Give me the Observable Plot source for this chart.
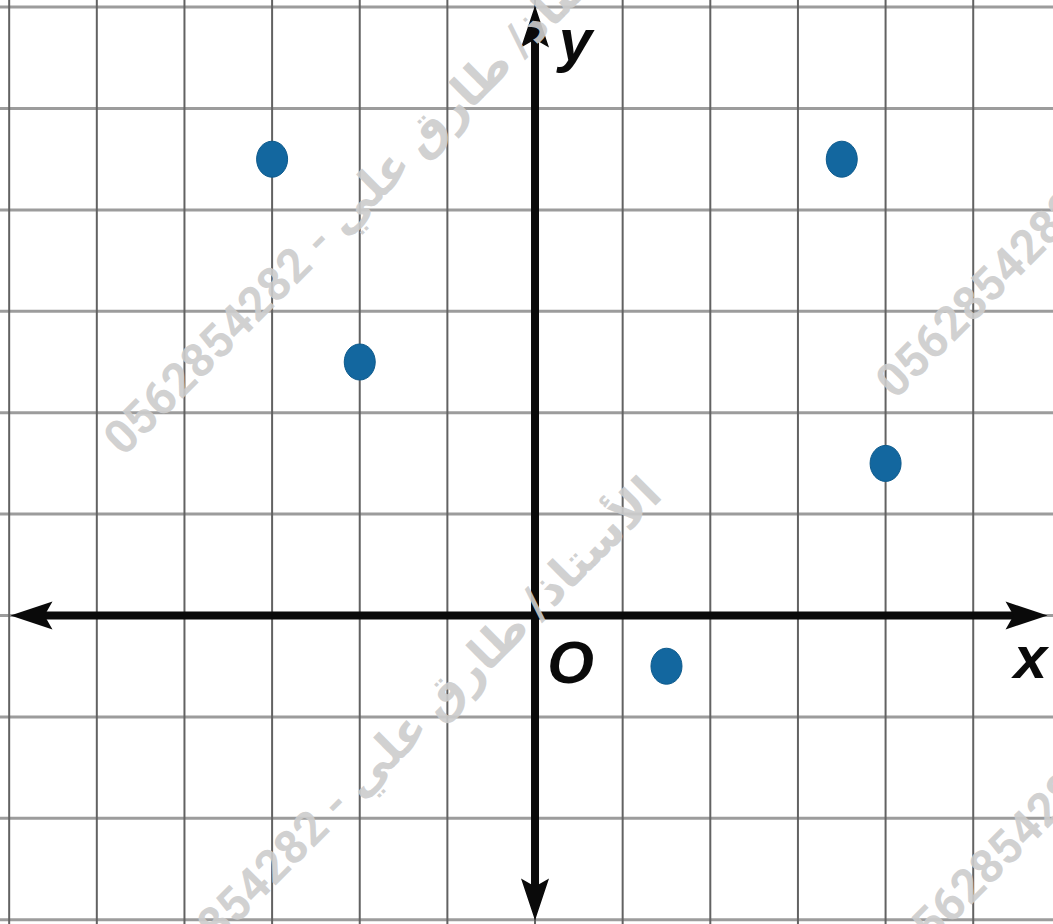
<!DOCTYPE html>
<html><head><meta charset="utf-8">
<script src="https://cdn.jsdelivr.net/npm/d3@7"></script>
<script src="https://cdn.jsdelivr.net/npm/@observablehq/plot@0.6"></script>
<style>html,body{margin:0;padding:0;background:#fff;overflow:hidden}</style>
</head><body><div id="chart"></div>
<script>
// Plotted points (grid units)
const pointX = [-3, -2, 3.5, 4, 1.5];
const pointY = [4.5, 2.5, 4.5, 1.5, -0.5];
// Grid lines (one per unit)
const gridX = [-6, -5, -4, -3, -2, -1, 0, 1, 2, 3, 4, 5];
const gridY = [-3, -2, -1, 0, 1, 2, 3, 4, 5, 6];
// Axis extents (arrow tips)
const xAxisEnds = [-5.985, 5.848];
const yAxisEnds = [-3.008, 6.016];
// Axis labels
const labelText = ["x", "y", "O"];
const labelX = [5.654, 0.46, 0.405];
const labelY = [-0.621, 5.47, -0.661];
// Watermark
const watermarkText = "0562854282 - الأستاذ/ طارق علي";
const watermarkX = [-4.695, -4.501, 4.113, 4.307];
const watermarkY = [1.558, -3.994, 2.120, -3.432];

const points = pointX.map((x, i) => ({x, y: pointY[i]}));
const labels = labelText.map((t, i) => ({t, x: labelX[i], y: labelY[i]}));
const marks = watermarkX.map((x, i) => ({x, y: watermarkY[i]}));

function head(angle) {
  const c = Math.cos(angle), s = Math.sin(angle);
  const pts = [[0, 0], [-42, -14], [-34, 0], [-42, 14]];
  return {draw(ctx) {
    pts.forEach(([px, py], i) => {
      const X = px * c - py * s, Y = px * s + py * c;
      i ? ctx.lineTo(X, Y) : ctx.moveTo(X, Y);
    });
    ctx.closePath();
  }};
}
const ellipseSym = {draw(ctx) {
  const rx = 15.5, ry = 18, k = 0.5523;
  ctx.moveTo(rx, 0);
  ctx.bezierCurveTo(rx, ry * k, rx * k, ry, 0, ry);
  ctx.bezierCurveTo(-rx * k, ry, -rx, ry * k, -rx, 0);
  ctx.bezierCurveTo(-rx, -ry * k, -rx * k, -ry, 0, -ry);
  ctx.bezierCurveTo(rx * k, -ry, rx, -ry * k, rx, 0);
  ctx.closePath();
}};

const chart = Plot.plot({
  width: 1053,
  height: 924,
  margin: 0,
  x: {domain: [-6.099, 5.916], axis: null},
  y: {domain: [-3.047, 6.065], axis: null},
  marks: [
    Plot.ruleY(gridY, {stroke: "#9c9c9c", strokeWidth: 3}),
    Plot.ruleX(gridX, {stroke: "#626262", strokeWidth: 2}),
    Plot.ruleY([0], {x1: xAxisEnds[0] + 0.25, x2: xAxisEnds[1] - 0.25, stroke: "#0a0a0a", strokeWidth: 8}),
    Plot.ruleX([0], {y1: yAxisEnds[0] + 0.2, y2: yAxisEnds[1] - 0.2, stroke: "#0a0a0a", strokeWidth: 8}),
    Plot.dot([{x: xAxisEnds[0], y: 0}], {x: "x", y: "y", symbol: head(Math.PI), fill: "#0a0a0a", r: 10}),
    Plot.dot([{x: xAxisEnds[1], y: 0}], {x: "x", y: "y", symbol: head(0), fill: "#0a0a0a", r: 10}),
    Plot.dot([{x: 0, y: yAxisEnds[1]}], {x: "x", y: "y", symbol: head(-Math.PI / 2), fill: "#0a0a0a", r: 10}),
    Plot.dot([{x: 0, y: yAxisEnds[0]}], {x: "x", y: "y", symbol: head(Math.PI / 2), fill: "#0a0a0a", r: 10}),
    Plot.dot(points, {x: "x", y: "y", symbol: ellipseSym, fill: "#13679f", stroke: "#0d5a8c", strokeWidth: 1, r: 16}),
    Plot.text(labels, {x: "x", y: "y", text: "t", fontSize: 60, fontStyle: "italic", fontWeight: "bold",
      fontFamily: "Liberation Sans, Arial, sans-serif", textAnchor: "middle", lineAnchor: "bottom", fill: "#0a0a0a"}),
    Plot.text(marks, {x: "x", y: "y", text: () => watermarkText, rotate: -45, textAnchor: "start", lineAnchor: "bottom",
      fontSize: 47, fontWeight: "bold", fontFamily: "Roboto, DejaVu Sans, sans-serif", fill: "#cdcdcd", fillOpacity: 0.92})
  ]
});
document.getElementById("chart").appendChild(chart);
</script>
</body></html>
